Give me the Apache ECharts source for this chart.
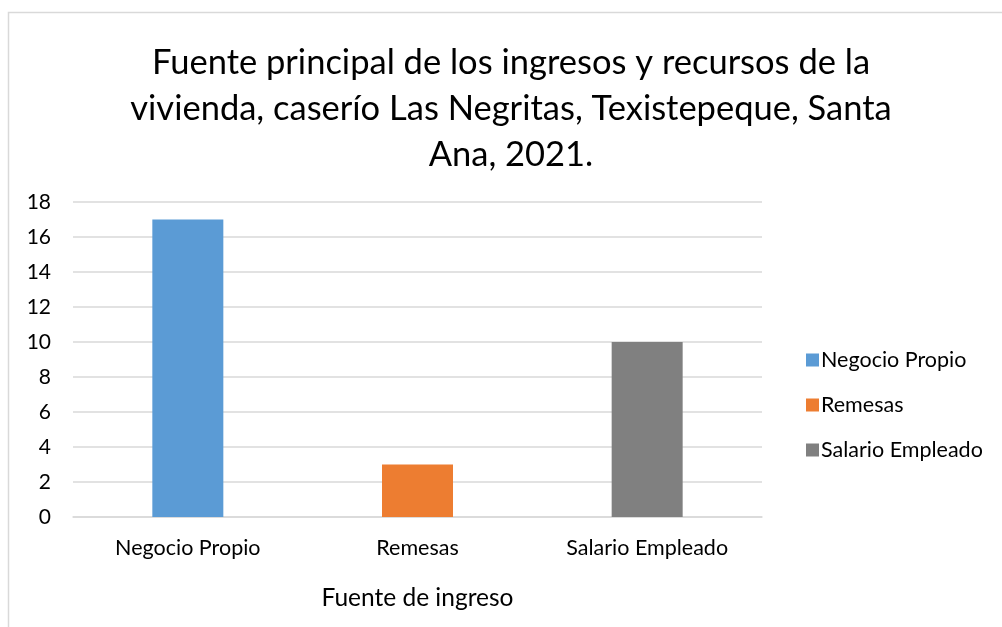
<!DOCTYPE html>
<html>
<head>
<meta charset="utf-8">
<script src="https://cdn.jsdelivr.net/npm/echarts@6/dist/echarts.min.js"></script>
<style>
  html, body { margin: 0; padding: 0; background: #fff; }
  #mychart { width: 1002px; height: 627px; }
</style>
</head>
<body>
<div id="mychart"></div>
<script>
// categorias y valores
var categories = ['Negocio Propio', 'Remesas', 'Salario Empleado']
var values = [17, 3, 10]
var colors = ['#5B9BD5', '#ED7D31', '#808080']
var yTicks = { min: 0, max: 18, interval: 2 }

var fontName = 'Lato'

// una serie por categoria, apiladas para que cada barra quede centrada
var series = categories.map(function (name, i) {
    var data = categories.map(function (c, j) {
        return j === i ? values[i] : null
    })
    return {
        name: name,
        type: 'bar',
        stack: 'total',
        barWidth: 71,
        data: data,
        itemStyle: { color: colors[i] },
    }
})

var myChart = echarts.init(document.getElementById('mychart'))

var option = {
    animation: false,
    textStyle: { fontFamily: fontName },
    title: {
        text: 'Fuente principal de los ingresos y recursos de la\nvivienda, caserío Las Negritas, Texistepeque, Santa\nAna, 2021.',
        left: 506,
        top: 35,
        textAlign: 'center',
        textStyle: {
            fontFamily: fontName,
            fontWeight: 'normal',
            fontSize: 34.5,
            lineHeight: 46,
            color: '#000',
        },
    },
    legend: {
        orient: 'vertical',
        left: 801,
        top: 344,
        itemWidth: 13,
        itemHeight: 13,
        itemGap: 23,
        icon: 'rect',
        data: categories,
        textStyle: { fontFamily: fontName, fontSize: 21.5, color: '#000', padding: [0, 0, 0, -3] },
    },
    grid: { left: 73, right: 240, top: 202, bottom: 110 },
    xAxis: {
        type: 'category',
        data: categories,
        name: 'Fuente de ingreso',
        nameLocation: 'middle',
        nameGap: 69,
        nameTextStyle: { fontFamily: fontName, fontSize: 24.5, color: '#000' },
        axisTick: { show: false },
        axisLine: { lineStyle: { color: '#D9D9D9', width: 1.5 } },
        axisLabel: { fontFamily: fontName, fontSize: 21.5, color: '#000', margin: 20 },
    },
    yAxis: {
        type: 'value',
        min: yTicks.min,
        max: yTicks.max,
        interval: yTicks.interval,
        axisLine: { show: false },
        axisTick: { show: false },
        axisLabel: { fontFamily: fontName, fontSize: 21, color: '#000', margin: 22 },
        splitLine: { lineStyle: { color: '#D9D9D9', width: 1.5 } },
    },
    graphic: [{
        type: 'polyline',
        shape: { points: [[8.5, 627], [8.5, 12.5], [1002, 12.5]] },
        style: { stroke: '#D9D9D9', lineWidth: 1.5, fill: null },
        z: -1,
    }],
    series: series,
}

myChart.setOption(option)
</script>
</body>
</html>
